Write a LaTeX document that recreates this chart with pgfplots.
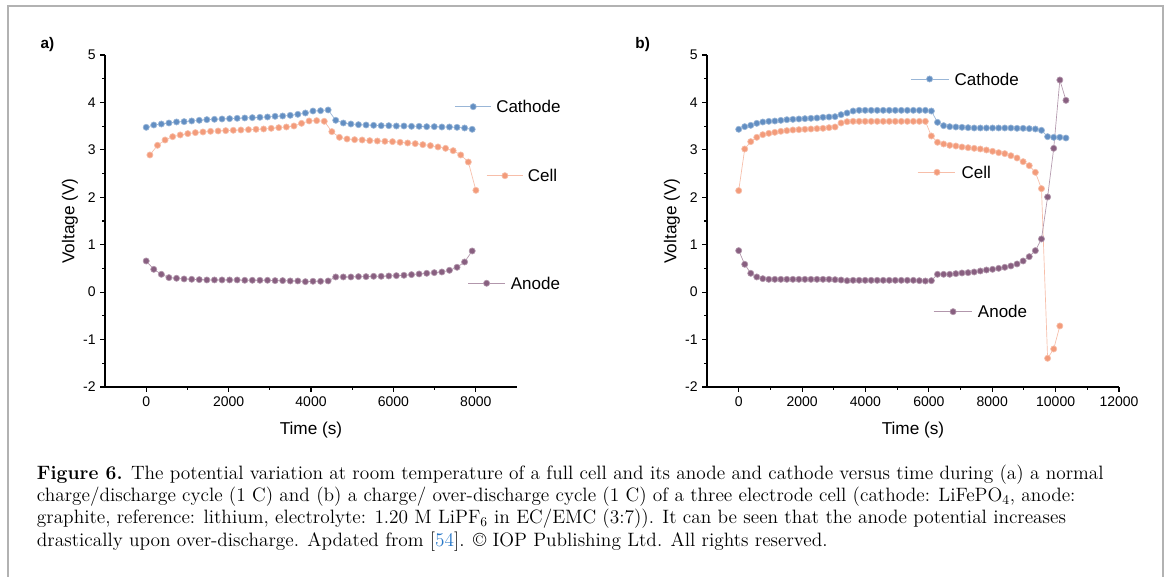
\documentclass[border=0pt]{standalone}
\usepackage{fontspec}
\newfontfamily\arial{Liberation Sans}
\usepackage{pgfplots}
\pgfplotsset{compat=1.18}
\definecolor{cath}{RGB}{98,142,194}
\definecolor{cell}{RGB}{243,155,122}
\definecolor{anod}{RGB}{136,95,128}
\definecolor{framegray}{RGB}{178,178,178}
\definecolor{citeblue}{RGB}{40,120,200}

\tikzset{
 legtext/.style={anchor=west, inner sep=0pt, font=\arial\fontsize{12.75}{15}\selectfont},
 plab/.style={font=\arial\bfseries\fontsize{11.5}{13}\selectfont},
}
\pgfplotsset{
 panel/.style={
  width=309pt, height=249pt, scale only axis,
  ymin=-2, ymax=5, ytick={-2,...,5},
  axis x line*=bottom, axis y line*=left,
  axis line style={line width=0.8pt},
  every tick/.style={line width=0.8pt, black},
  tick align=outside,
  major tick length=3.5pt, minor tick length=2pt,
  minor x tick num=1, minor y tick num=1,
  scaled x ticks=false,
  /pgf/number format/assume math mode=true,
  /pgf/number format/1000 sep={},
  ticklabel style={font=\arial\fontsize{10.5}{12}\selectfont},
  label style={font=\arial\fontsize{12.9}{15}\selectfont},
  xlabel={Time (s)}, ylabel={Voltage (V)},
  xlabel style={at={(axis description cs:0.5,-0.1295)}, anchor=center},
  ylabel style={at={(axis description cs:-0.085,0.5)}, anchor=center},
  clip=false,
 },
 cathS/.style={color=cath!65!white, line width=0.5pt, mark=*, mark size=2.3pt, mark options={draw=none, fill=cath}},
 cellS/.style={color=cell!65!white, line width=0.5pt, mark=*, mark size=2.3pt, mark options={draw=none, fill=cell}},
 anodS/.style={color=anod!65!white, line width=0.5pt, mark=*, mark size=2.3pt, mark options={draw=none, fill=anod}},
}

\begin{document}
\begin{tikzpicture}
\path[use as bounding box] (0,0) rectangle (876pt,432.75pt);
\fill[white] (0,0) rectangle (876pt,432.75pt);
\draw[framegray, line width=1.1pt] (6pt,-2pt) -- (6pt,428.25pt) -- (872.25pt,428.25pt) -- (872.25pt,-2pt);

% ---------------- panel a ----------------
\begin{axis}[panel, at={(78.75pt,142.5pt)}, anchor=south west,
  xmin=-1000, xmax=9000, xtick={0,2000,...,8000}]
\addplot[cathS] coordinates {
(0,3.475) (184,3.524) (368,3.545) (552,3.566) (736,3.588) (920,3.595) (1104,3.609) (1288,3.623)
(1472,3.637) (1656,3.644) (1840,3.651) (2024,3.658) (2208,3.665) (2392,3.672) (2576,3.679) (2760,3.686)
(2944,3.693) (3128,3.707) (3312,3.714) (3496,3.728) (3680,3.749) (3864,3.777) (4048,3.819) (4232,3.826)
(4416,3.841) (4600,3.623) (4784,3.566) (4968,3.545) (5152,3.531) (5336,3.524) (5520,3.517) (5704,3.510)
(5888,3.510) (6072,3.503) (6256,3.503) (6440,3.496) (6624,3.496) (6808,3.489) (6992,3.489) (7176,3.482)
(7360,3.482) (7544,3.475) (7728,3.461) (7912,3.433)};
\addplot[cellS] coordinates {
(90,2.892) (274,3.096) (458,3.208) (642,3.278) (826,3.314) (1010,3.342) (1194,3.363) (1378,3.377)
(1562,3.391) (1746,3.398) (1930,3.405) (2114,3.412) (2298,3.419) (2482,3.426) (2666,3.433) (2850,3.440)
(3034,3.454) (3218,3.468) (3402,3.482) (3586,3.503) (3770,3.559) (3954,3.609) (4138,3.616) (4322,3.602)
(4506,3.384) (4690,3.264) (4874,3.229) (5058,3.215) (5242,3.208) (5426,3.194) (5610,3.187) (5794,3.180)
(5978,3.173) (6162,3.159) (6346,3.145) (6530,3.131) (6714,3.110) (6898,3.089) (7082,3.061) (7266,3.032)
(7450,2.983) (7634,2.892) (7818,2.744) (8002,2.147)};
\addplot[anodS] coordinates {
(0,0.657) (184,0.481) (368,0.376) (552,0.306) (736,0.292) (920,0.278) (1104,0.271) (1288,0.264)
(1472,0.257) (1656,0.257) (1840,0.257) (2024,0.257) (2208,0.257) (2392,0.250) (2576,0.250) (2760,0.250)
(2944,0.250) (3128,0.243) (3312,0.243) (3496,0.236) (3680,0.236) (3864,0.221) (4048,0.229) (4232,0.229)
(4416,0.236) (4600,0.320) (4784,0.320) (4968,0.320) (5152,0.327) (5336,0.327) (5520,0.334) (5704,0.334)
(5888,0.341) (6072,0.348) (6256,0.355) (6440,0.369) (6624,0.383) (6808,0.397) (6992,0.411) (7176,0.425)
(7360,0.460) (7544,0.524) (7728,0.636) (7912,0.868)};
% legend entries
\addplot[cathS, mark indices={2}, forget plot] coordinates {(7492,3.910) (7937,3.910) (8359,3.910)};
\addplot[cellS, mark indices={2}, forget plot] coordinates {(8262,2.455) (8707,2.455) (9151,2.455)};
\addplot[anodS, mark indices={2}, forget plot] coordinates {(7815,0.187) (8262,0.187) (8707,0.187)};
\node[legtext] at (axis cs:8490,3.910) {Cathode};
\node[legtext] at (axis cs:9258,2.455) {Cell};
\node[legtext] at (axis cs:8845,0.187) {Anode};
\node[plab] at (axis description cs:-0.140,1.031) {a)};
\end{axis}

% ---------------- panel b ----------------
\begin{axis}[panel, at={(530.25pt,142.5pt)}, anchor=south west,
  xmin=-1000, xmax=12000, xtick={0,2000,...,12000}]
\addplot[cathS] coordinates {
(0,3.433) (190,3.489) (380,3.517) (570,3.559) (760,3.587) (950,3.601) (1140,3.608) (1330,3.622)
(1520,3.636) (1710,3.643) (1900,3.651) (2090,3.658) (2280,3.665) (2470,3.672) (2660,3.686) (2850,3.693)
(3040,3.700) (3230,3.742) (3420,3.777) (3610,3.819) (3800,3.833) (3990,3.833) (4180,3.833) (4370,3.833)
(4560,3.833) (4750,3.833) (4940,3.833) (5130,3.833) (5320,3.833) (5510,3.833) (5700,3.833) (5890,3.833)
(6080,3.819) (6273,3.580) (6466,3.510) (6659,3.489) (6852,3.482) (7045,3.475) (7238,3.468) (7431,3.461)
(7624,3.461) (7817,3.461) (8010,3.461) (8203,3.461) (8396,3.461) (8589,3.461) (8782,3.454) (8975,3.454)
(9168,3.447) (9361,3.440) (9554,3.412) (9747,3.278) (9940,3.264) (10133,3.264) (10326,3.250)};
\addplot[cellS] coordinates {
(0,2.140) (190,3.018) (380,3.173) (570,3.264) (760,3.320) (950,3.348) (1140,3.369) (1330,3.391)
(1520,3.405) (1710,3.419) (1900,3.426) (2090,3.433) (2280,3.440) (2470,3.447) (2660,3.454) (2850,3.468)
(3040,3.482) (3230,3.566) (3420,3.594) (3610,3.601) (3800,3.601) (3990,3.601) (4180,3.601) (4370,3.601)
(4560,3.601) (4750,3.601) (4940,3.601) (5130,3.601) (5320,3.601) (5510,3.601) (5700,3.601) (5890,3.601)
(6080,3.292) (6273,3.159) (6466,3.123) (6659,3.095) (6852,3.081) (7045,3.060) (7238,3.046) (7431,3.032)
(7624,3.018) (7817,2.997) (8010,2.969) (8203,2.941) (8396,2.920) (8589,2.877) (8782,2.828) (8975,2.751)
(9168,2.667) (9361,2.526) (9554,2.182) (9747,-1.395) (9940,-1.198) (10133,-0.713)};
\addplot[anodS] coordinates {
(0,0.875) (190,0.587) (380,0.397) (570,0.320) (760,0.284) (950,0.270) (1140,0.270) (1330,0.270)
(1520,0.270) (1710,0.270) (1900,0.270) (2090,0.270) (2280,0.270) (2470,0.270) (2660,0.270) (2850,0.270)
(3040,0.263) (3230,0.256) (3420,0.242) (3610,0.249) (3800,0.249) (3990,0.249) (4180,0.249) (4370,0.249)
(4560,0.249) (4750,0.249) (4940,0.249) (5130,0.249) (5320,0.249) (5510,0.249) (5700,0.242) (5890,0.235)
(6080,0.242) (6273,0.376) (6466,0.376) (6659,0.376) (6852,0.390) (7045,0.404) (7238,0.411) (7431,0.425)
(7624,0.446) (7817,0.467) (8010,0.481) (8203,0.502) (8396,0.524) (8589,0.552) (8782,0.594) (8975,0.657)
(9168,0.748) (9361,0.875) (9554,1.121) (9747,2.006) (9940,3.032) (10133,4.473) (10326,4.044)};
% legend entries
\addplot[cathS, mark indices={2}, forget plot] coordinates {(5434,4.494) (6023,4.494) (6624,4.494)};
\addplot[cellS, mark indices={2}, forget plot] coordinates {(5643,2.527) (6257,2.527) (6836,2.527)};
\addplot[anodS, mark indices={2}, forget plot] coordinates {(6149,-0.412) (6764,-0.412) (7364,-0.412)};
\node[legtext] at (axis cs:6805,4.494) {Cathode};
\node[legtext] at (axis cs:7026,2.527) {Cell};
\node[legtext] at (axis cs:7542,-0.412) {Anode};
\node[plab] at (axis description cs:-0.156,1.031) {b)};
\end{axis}

% ---------------- caption ----------------
\begin{scope}[every node/.style={anchor=base west, inner sep=0pt, font=\fontsize{14.5}{16.7}\selectfont}]
\node at (27.5pt,73.3pt) {\textbf{Figure 6.} The potential variation at room temperature of a full cell and its anode and cathode versus time during (a) a normal};
\node at (27.5pt,56.5pt) {charge/discharge cycle (1 C) and (b) a charge/ over-discharge cycle (1 C) of a three electrode cell (cathode: LiFePO\textsubscript{4}, anode:};
\node at (27.5pt,39.75pt) {graphite, reference: lithium, electrolyte: 1.20 M LiPF\textsubscript{6} in EC/EMC (3:7)). It can be seen that the anode potential increases};
\node at (27.5pt,23pt) {drastically upon over-discharge. Apdated from [\textcolor{citeblue}{54}]. © IOP Publishing Ltd. All rights reserved.};
\end{scope}
\end{tikzpicture}
\end{document}
